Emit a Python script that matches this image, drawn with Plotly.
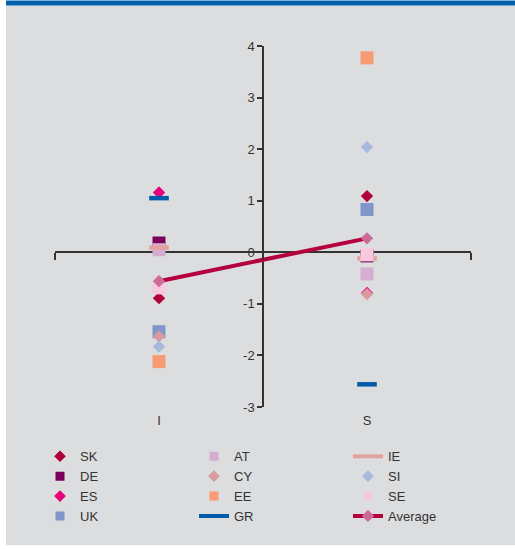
import plotly.graph_objects as go

# Categories and series values
categories = ["I", "S"]
SK = [-0.89, 1.09]
DE = [0.18, -0.07]
ES = [1.16, -0.79]
UK = [-1.54, 0.83]
AT = [0.05, -0.42]
CY = [-1.63, -0.81]
EE = [-2.12, 3.77]
GR = [1.05, -2.56]
IE = [0.09, -0.12]
SI = [-1.83, 2.04]
SE = [-0.69, -0.05]
Average = [-0.56, 0.27]

y_tick_values = [-3, -2, -1, 0, 1, 2, 3, 4]
y_tick_labels = ["-3", "-2", "-1", "0", "1", "2", "3", "4"]

W, H = 515, 549
L, R, T, B = 55, 44, 45.5, 142.3
PW, PH = W - L - R, H - T - B


def px_x(p):
    return (p - L) / PW


def px_y(p):
    return (H - B - p) / PH


# (name, values, symbol, size, color, legend rank)
series = [
    ("SK", SK, "diamond", 9.5, "#B0003C", 1),
    ("DE", DE, "square", 13, "#7A005A", 4),
    ("ES", ES, "diamond", 9.5, "#E6007E", 7),
    ("UK", UK, "square", 13, "#7F96C8", 10),
    ("AT", AT, "square", 13, "#D5ADD0", 2),
    ("CY", CY, "diamond", 9.5, "#D99A9E", 5),
    ("EE", EE, "square", 13, "#F89A74", 8),
    ("GR", GR, "line-ew", 14, "#005CA9", 11),
    ("IE", IE, "line-ew", 14, "#E5A0A0", 3),
    ("SI", SI, "diamond", 9.5, "#A8B8DE", 6),
    ("SE", SE, "square", 13, "#F8C8DC", 9),
]

fig = go.Figure()
for name, vals, sym, size, color, rank in series:
    if sym == "line-ew":
        marker = dict(symbol=sym, size=size, line=dict(color=color, width=4.5))
    else:
        marker = dict(symbol=sym, size=size, color=color, line=dict(width=0))
    fig.add_trace(go.Scatter(x=categories, y=vals, mode="markers", name=name,
                             marker=marker, legendgroup=name, showlegend=False))
    # legend key with the smaller key symbol
    if sym == "line-ew":
        key = dict(mode="lines", line=dict(color=color, width=4))
    else:
        key = dict(mode="markers",
                   marker=dict(symbol=sym, size=9, color=color, line=dict(width=0)))
    fig.add_trace(go.Scatter(x=[None], y=[None], name=name, legendgroup=name,
                             legendrank=rank, hoverinfo="skip", **key))

fig.add_trace(go.Scatter(
    x=categories, y=Average, mode="lines+markers", name="Average",
    line=dict(color="#B5003F", width=4),
    marker=dict(symbol="diamond", size=9.5, color="#CC6A9A", line=dict(width=0)),
    legendrank=12,
))

# category labels along the bottom edge
fig.add_trace(go.Scatter(x=categories, y=[None, None], xaxis="x2",
                         showlegend=False, hoverinfo="skip"))

font_family = "Liberation Sans, Arial, sans-serif"
axis_color = "#333333"

shapes = [
    # grey panel
    dict(type="rect", xref="paper", yref="paper", layer="below",
         x0=px_x(6), x1=px_x(515), y0=px_y(545), y1=px_y(5),
         fillcolor="#DCDDDF", line=dict(width=0)),
    # header band
    dict(type="rect", xref="paper", yref="paper", layer="below",
         x0=px_x(6), x1=px_x(515), y0=px_y(5), y1=px_y(0),
         fillcolor="#0062AC", line=dict(width=0)),
]

fig.update_layout(
    width=W, height=H,
    margin=dict(l=L, r=R, t=T, b=B, pad=0),
    paper_bgcolor="white",
    plot_bgcolor="rgba(0,0,0,0)",
    font=dict(family=font_family, size=13, color=axis_color),
    shapes=shapes,
    showlegend=True,
    legend=dict(
        orientation="h", x=px_x(40), y=px_y(441), xanchor="left", yanchor="top",
        entrywidth=109, entrywidthmode="pixels",
        bgcolor="rgba(0,0,0,0)", font=dict(size=13, color=axis_color),
        traceorder="normal",
    ),
    xaxis=dict(
        type="category", range=[-0.5, 1.5], anchor="free", position=3 / 7,
        tickson="boundaries", ticks="outside", ticklen=7, tickwidth=1.5,
        tickcolor=axis_color, showticklabels=False, showline=False,
        showgrid=False, zeroline=False,
    ),
    xaxis2=dict(
        type="category", overlaying="x", anchor="y", side="bottom",
        range=[-0.5, 1.5], showline=False, showgrid=False, zeroline=False,
        ticks="outside", ticklen=1, tickcolor="rgba(0,0,0,0)",
        tickfont=dict(size=13, color=axis_color),
    ),
    yaxis=dict(
        range=[-3, 4], anchor="free", position=0.5, showline=True,
        linecolor=axis_color, linewidth=1.5, ticks="outside", ticklen=5,
        tickwidth=1.5, tickcolor=axis_color, tickvals=y_tick_values,
        ticktext=y_tick_labels, showgrid=False, zeroline=True,
        zerolinecolor=axis_color, zerolinewidth=1.5, layer="below traces",
        tickfont=dict(size=13, color=axis_color),
    ),
)

fig.write_html("out.html")
